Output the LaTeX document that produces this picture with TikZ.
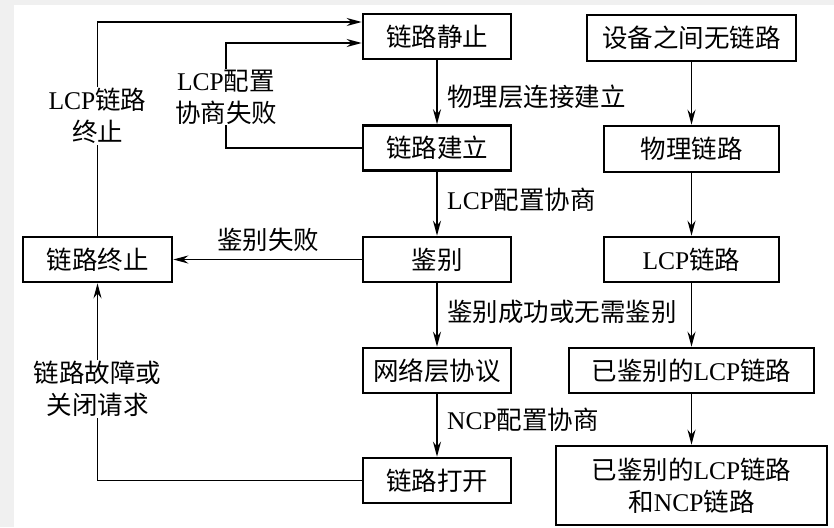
\documentclass[tikz,border=0pt]{standalone}
\usepackage{fontspec}
\setmainfont{Noto Sans CJK SC}
\newfontfamily\lat{Liberation Serif}
\newcommand\en[1]{{\lat #1}}
\usetikzlibrary{arrows.meta}
\begin{document}
\begin{tikzpicture}[x=1pt,y=-1pt,
  box/.style={draw, line width=2.6pt, minimum height=45pt, inner sep=0pt, align=center,
    font=\fontsize{25.5}{32}\selectfont},
  lbl/.style={inner sep=1pt, align=center, font=\fontsize{25.5}{32}\selectfont},
  conn/.style={line width=1.8pt},
  arr/.style={line width=1.8pt, -{Stealth[length=15pt,width=8pt]}}]
\useasboundingbox (0,0) rectangle (834,527);
\fill[black!6] (0,0) rectangle (834,527);
\fill[white] (14,5) rectangle (834,527);
% left column
\node[box, minimum width=148pt] (s1) at (437,36.5) {链路静止};
\node[box, minimum width=148pt] (s2) at (437,148) {链路建立};
\node[box, minimum width=148pt] (s3) at (437,259.5) {鉴别};
\node[box, minimum width=148pt] (s4) at (437,370.5) {网络层协议};
\node[box, minimum width=148pt] (s5) at (437,480.5) {链路打开};
\node[box, minimum width=149pt] (term) at (97.5,259.5) {链路终止};
% right column
\node[box, minimum width=209pt, minimum height=46pt] (r1) at (691.5,38) {设备之间无链路};
\node[box, minimum width=175pt, minimum height=46pt] (r2) at (691.5,149) {物理链路};
\node[box, minimum width=175pt] (r3) at (691.5,259.5) {\en{LCP}链路};
\node[box, minimum width=245pt] (r4) at (691.5,370.5) {已鉴别的\en{LCP}链路};
\node[box, minimum width=271pt, minimum height=79pt] (r5) at (691.5,485.5) {已鉴别的\en{LCP}链路\\和\en{NCP}链路};
% labels
\node[lbl, anchor=west] (l1) at (446,97) {物理层连接建立};
\node[lbl, anchor=west] (l2) at (446,200) {\en{LCP}配置协商};
\node[lbl, anchor=west] (l3) at (446,312) {鉴别成功或无需鉴别};
\node[lbl, anchor=west] (l4) at (446,420) {\en{NCP}配置协商};
\node[lbl] (l5) at (268,240) {鉴别失败};
\node[lbl] (ta) at (97.5,116) {\en{LCP}链路\\终止};
\node[lbl] (tb) at (226,97) {\en{LCP}配置\\协商失败};
\node[lbl] (tc) at (97.5,389) {链路故障或\\关闭请求};
% connectors
\draw[arr] (s1) -- (s2);
\draw[arr] (s2) -- (s3);
\draw[arr] (s3) -- (s4);
\draw[arr] (s4) -- (s5);
\draw[arr] (r1) -- (r2);
\draw[arr] (r2) -- (r3);
\draw[arr] (r3) -- (r4);
\draw[arr] (r4) -- (r5);
\draw[arr] (s3) -- (term);
\draw[conn] (term.north) -- (ta.south);
\draw[arr] (ta.north) |- ([yshift=14.5pt]s1.west);
\draw[conn] (s2.west) -| (tb.south);
\draw[arr] (tb.north) |- ([yshift=-6.5pt]s1.west);
\draw[conn] (s5.west) -| (tc.south);
\draw[arr] (tc.north) -- (term.south);
\end{tikzpicture}
\end{document}
